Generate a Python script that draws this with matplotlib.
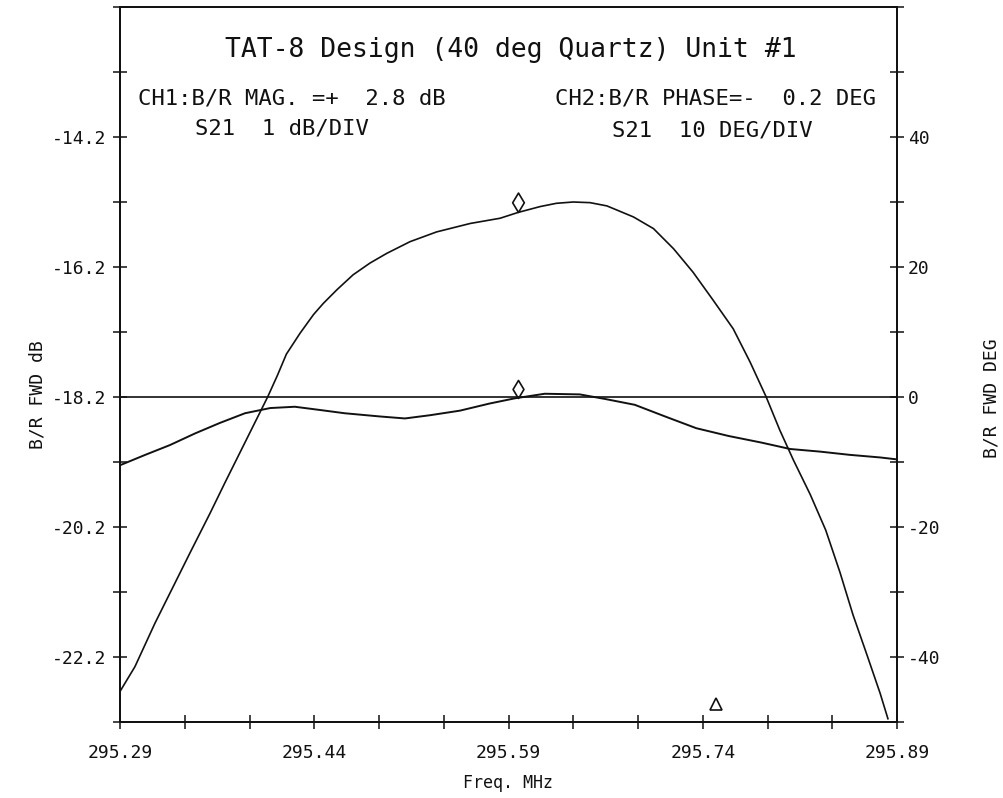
import numpy as np
import matplotlib
matplotlib.use('Agg')
import matplotlib.pyplot as plt
from matplotlib.path import Path

# CH1: B/R magnitude (dB)
freq_mag = [295.2900, 295.3015, 295.3170, 295.3285, 295.3440, 295.3595, 295.3710,
            295.3825, 295.3940, 295.4040, 295.4115, 295.4185, 295.4290, 295.4395,
            295.4470, 295.4575, 295.4700, 295.4830, 295.4960, 295.5140, 295.5345,
            295.5605, 295.5835, 295.5975, 295.6145, 295.6270, 295.6400, 295.6530,
            295.6660, 295.6865, 295.7020, 295.7175, 295.7325, 295.7480, 295.7635,
            295.7765, 295.7890, 295.7995, 295.8100, 295.8230, 295.8350, 295.8460,
            295.8560, 295.8665, 295.8770, 295.8830]
mag_db = [-22.73, -22.35, -21.68, -21.22, -20.60, -19.99, -19.52,
          -19.06, -18.60, -18.20, -17.87, -17.54, -17.22, -16.93,
          -16.76, -16.55, -16.32, -16.14, -15.99, -15.81, -15.66,
          -15.53, -15.45, -15.36, -15.27, -15.22, -15.20, -15.21,
          -15.26, -15.43, -15.61, -15.92, -16.28, -16.71, -17.15,
          -17.66, -18.20, -18.71, -19.17, -19.70, -20.25, -20.90,
          -21.55, -22.15, -22.76, -23.15]

# CH2: B/R phase (deg)
freq_phase = [295.2900, 295.3095, 295.3285, 295.3480, 295.3670, 295.3865, 295.4060,
              295.4250, 295.4445, 295.4635, 295.4910, 295.5100, 295.5295, 295.5525,
              295.5755, 295.5950, 295.6180, 295.6450, 295.6645, 295.6875, 295.7110,
              295.7350, 295.7600, 295.7850, 295.8075, 295.8305, 295.8535, 295.8770,
              295.8900]
phase_deg = [-10.5, -8.9, -7.4, -5.6, -4.0, -2.5, -1.7,
             -1.5, -2.0, -2.5, -3.0, -3.3, -2.8, -2.1,
             -1.0, -0.2, 0.5, 0.4, -0.3, -1.2, -3.0,
             -4.8, -6.0, -7.0, -8.0, -8.4, -8.9, -9.3,
             -9.6]

# markers
marker_freq = 295.597
marker_mag = -15.35
marker_phase = -0.2
delta_freq = 295.750
delta_mag = -22.92

x_ticks = [295.29, 295.34, 295.39, 295.44, 295.49, 295.54, 295.59,
           295.64, 295.69, 295.74, 295.79, 295.84, 295.89]
x_tick_labels = ['295.29', '', '', '295.44', '', '', '295.59',
                 '', '', '295.74', '', '', '295.89']
mag_ticks = [-23.2, -22.2, -21.2, -20.2, -19.2, -18.2, -17.2, -16.2, -15.2, -14.2, -13.2, -12.2]
mag_tick_labels = ['', '-22.2', '', '-20.2', '', '-18.2', '', '-16.2', '', '-14.2', '', '']
phase_ticks = [-50, -40, -30, -20, -10, 0, 10, 20, 30, 40, 50, 60]
phase_tick_labels = ['', '-40', '', '-20', '', '0', '', '20', '', '40', '', '']

plt.rcParams['font.family'] = 'DejaVu Sans Mono'
ink = '#111111'

W, H = 1004, 798
fig = plt.figure(figsize=(W / 100, H / 100), dpi=100)
ax = fig.add_axes([120 / W, 1 - 722 / H, 777 / W, 715 / H])
ax2 = ax.twinx()


def px(x, y):
    # pixel position -> figure fraction
    return x / W, 1 - y / H


# diamond marker with its bottom tip on the data point
diamond = Path([(0, 0), (0.6, 1), (0, 2), (-0.6, 1), (0, 0)],
               [Path.MOVETO, Path.LINETO, Path.LINETO, Path.LINETO, Path.CLOSEPOLY])

ax.plot(freq_mag, mag_db, color=ink, lw=1.2, clip_on=True)
ax.plot([marker_freq], [marker_mag], marker=diamond, ms=28, mfc='none', mec=ink, mew=1.2)
ax.plot([delta_freq], [delta_mag], marker='^', ms=9, mfc='none', mec=ink, mew=1.2)

ax2.plot(freq_phase, phase_deg, color=ink, lw=1.4)
ax2.axhline(0, color=ink, lw=1.2)
ax2.plot([marker_freq], [marker_phase], marker=diamond, ms=26, mfc='none', mec=ink, mew=1.2)

ax.set_xlim(295.29, 295.89)
ax.set_ylim(-23.2, -12.2)
ax2.set_ylim(-50, 60)

ax.set_xticks(x_ticks)
ax.set_xticklabels(x_tick_labels)
ax.set_yticks(mag_ticks)
ax.set_yticklabels(mag_tick_labels)
ax2.set_yticks(phase_ticks)
ax2.set_yticklabels(phase_tick_labels)

ax.tick_params(axis='both', direction='inout', length=10, width=1.1, color=ink,
               labelsize=13, labelcolor=ink)
ax.tick_params(axis='x', pad=11)
ax.tick_params(axis='y', pad=5)
ax2.tick_params(axis='y', direction='inout', length=10, width=1.1, color=ink,
                labelsize=13, labelcolor=ink, pad=3)

for a in (ax, ax2):
    for s in a.spines.values():
        s.set_color(ink)
        s.set_linewidth(1.3)

# header text
fig.text(*px(511, 50), 'TAT-8 Design (40 deg Quartz) Unit #1', ha='center', va='center',
         fontsize=19, color=ink)
fig.text(*px(138, 99), 'CH1:B/R MAG. =+  2.8 dB', ha='left', va='center', fontsize=16, color=ink)
fig.text(*px(195, 129), 'S21  1 dB/DIV', ha='left', va='center', fontsize=16, color=ink)
fig.text(*px(555, 99), 'CH2:B/R PHASE=-  0.2 DEG', ha='left', va='center', fontsize=16, color=ink)
fig.text(*px(612, 130), 'S21  10 DEG/DIV', ha='left', va='center', fontsize=16, color=ink)

# axis titles
fig.text(*px(508, 783), 'Freq. MHz', ha='center', va='center', fontsize=12, color=ink)
fig.text(*px(37, 395), 'B/R FWD dB', ha='center', va='center', rotation=90, fontsize=13, color=ink)
fig.text(*px(992, 398), 'B/R FWD DEG', ha='center', va='center', rotation=90, fontsize=13, color=ink)

fig.savefig('out.png', dpi=100, facecolor='white')
